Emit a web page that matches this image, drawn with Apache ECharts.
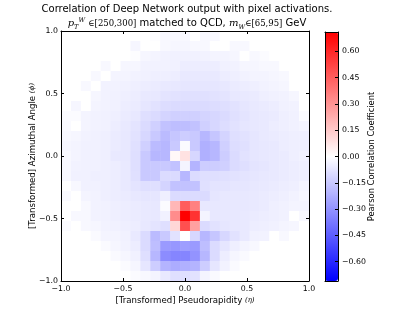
<!DOCTYPE html>
<html><head><meta charset="utf-8">
<script src="https://cdn.jsdelivr.net/npm/echarts@6/dist/echarts.min.js"></script>
<style>html,body{margin:0;padding:0;background:#fff}#c{width:415px;height:312px}</style>
</head><body><div id="c"></div>
<script>
const titleLine1 = 'Correlation of Deep Network output with pixel activations.';
const xAxisName = '[Transformed] Pseudorapidity ';
const yAxisName = '[Transformed] Azimuthal Angle ';
const cbName = 'Pearson Correlation Coefficient';
const etaRange = [-1, 1];
const phiRange = [-1, 1];
const axisTicks = [-1, -0.5, 0, 0.5, 1];
const cbRange = [-0.71, 0.71];
const cbTicks = [-0.6, -0.45, -0.3, -0.15, 0, 0.15, 0.3, 0.45, 0.6];

// rows from phi = +1 (top) down to phi = -1 (bottom); columns from eta = -1 to +1
const corr = [
 [0,0,0,0,0,0,0,0,0,-0.005,-0.02,-0.02,-0.02,0,-0.02,-0.02,0,0,0,0,0,0,0,0,0],
 [0,0,0,0,0,0,0,-0.025,0,0,-0.02,-0.025,-0.025,-0.02,-0.02,0,0,-0.02,-0.02,0,0,0,0,0,0],
 [0,0,0,0,0,0,0,-0.005,-0.025,-0.03,-0.035,-0.04,-0.04,-0.04,-0.035,-0.03,-0.03,-0.025,0,-0.02,-0.01,0,0,0,0],
 [0,0,0,0,-0.02,0,-0.025,-0.025,-0.035,-0.035,-0.035,-0.04,-0.05,-0.05,-0.05,-0.05,-0.04,-0.035,-0.025,-0.025,-0.02,-0.02,0,0,0],
 [0,0,0,-0.02,0,-0.03,-0.03,-0.035,-0.04,-0.045,-0.045,-0.05,-0.06,-0.06,-0.06,-0.06,-0.05,-0.045,-0.035,-0.03,-0.03,-0.025,-0.02,0,0],
 [0,0,-0.02,0,-0.035,-0.035,-0.04,-0.045,-0.05,-0.055,-0.06,-0.065,-0.07,-0.07,-0.07,-0.07,-0.065,-0.055,-0.05,-0.045,-0.035,-0.03,-0.025,0,0],
 [0,0,0,-0.025,-0.035,-0.04,-0.045,-0.05,-0.06,-0.065,-0.075,-0.08,-0.085,-0.085,-0.085,-0.08,-0.075,-0.065,-0.06,-0.055,-0.045,-0.04,-0.035,-0.025,0],
 [0,-0.025,0,-0.03,-0.035,-0.04,-0.05,-0.055,-0.07,-0.08,-0.095,-0.1,-0.1,-0.1,-0.1,-0.095,-0.09,-0.08,-0.07,-0.06,-0.055,-0.05,-0.04,-0.035,0],
 [-0.01,-0.01,-0.03,-0.035,-0.04,-0.045,-0.055,-0.065,-0.09,-0.1,-0.12,-0.13,-0.13,-0.13,-0.12,-0.11,-0.1,-0.085,-0.075,-0.065,-0.06,-0.055,-0.045,-0.04,-0.01],
 [-0.015,0,-0.03,-0.035,-0.04,-0.05,-0.06,-0.075,-0.1,-0.13,-0.17,-0.18,-0.18,-0.17,-0.13,-0.11,-0.095,-0.08,-0.07,-0.065,-0.06,-0.05,-0.045,-0.04,-0.03],
 [-0.02,-0.025,-0.035,-0.04,-0.045,-0.055,-0.065,-0.08,-0.11,-0.15,-0.19,-0.16,-0.14,-0.15,-0.2,-0.16,-0.12,-0.09,-0.08,-0.07,-0.06,-0.055,-0.05,-0.045,-0.045],
 [-0.025,-0.03,-0.04,-0.04,-0.045,-0.055,-0.065,-0.085,-0.13,-0.19,-0.2,-0.15,-0.01,-0.15,-0.22,-0.2,-0.13,-0.095,-0.085,-0.07,-0.065,-0.06,-0.05,-0.045,-0.045],
 [-0.02,-0.03,-0.04,-0.04,-0.045,-0.06,-0.065,-0.09,-0.15,-0.2,-0.2,0.02,0.08,-0.11,-0.22,-0.2,-0.14,-0.1,-0.08,-0.07,-0.065,-0.06,-0.055,-0.045,-0.04],
 [-0.02,-0.035,-0.04,-0.04,-0.045,-0.05,-0.06,-0.09,-0.15,-0.15,-0.15,-0.17,-0.03,-0.21,-0.14,-0.14,-0.13,-0.1,-0.09,-0.075,-0.07,-0.06,-0.055,-0.05,-0.045],
 [-0.02,-0.04,-0.04,-0.045,-0.045,-0.05,-0.06,-0.085,-0.15,-0.15,-0.1,-0.1,-0.2,-0.1,-0.09,-0.09,-0.085,-0.08,-0.075,-0.07,-0.065,-0.06,-0.055,-0.05,-0.045],
 [0,-0.02,-0.04,-0.04,-0.045,-0.05,-0.06,-0.075,-0.09,-0.09,-0.12,-0.17,-0.17,-0.17,-0.085,-0.075,-0.075,-0.07,-0.07,-0.065,-0.06,-0.055,-0.05,-0.045,-0.03],
 [-0.015,0,-0.03,-0.035,-0.045,-0.05,-0.055,-0.065,-0.07,-0.07,-0.045,-0.1,-0.1,-0.1,-0.1,-0.07,-0.065,-0.065,-0.065,-0.06,-0.055,-0.05,-0.045,-0.035,-0.025],
 [0,0,-0.02,-0.035,-0.04,-0.045,-0.05,-0.055,-0.06,-0.065,-0.01,0.2,0.45,0.35,-0.065,-0.065,-0.065,-0.065,-0.065,-0.06,-0.055,-0.045,-0.04,-0.03,-0.03],
 [0,-0.02,-0.02,-0.035,-0.04,-0.045,-0.05,-0.055,-0.06,-0.065,-0.04,0.32,0.71,0.57,-0.03,-0.065,-0.065,-0.065,-0.06,-0.055,-0.05,-0.045,-0.04,0,-0.02],
 [-0.01,0,-0.02,-0.025,-0.035,-0.04,-0.045,-0.05,-0.065,-0.075,-0.09,0.11,0.49,0.265,-0.1,-0.08,-0.07,-0.065,-0.06,-0.05,-0.045,-0.04,-0.03,-0.025,0],
 [0,0,0,-0.015,-0.03,-0.03,-0.04,-0.06,-0.1,-0.19,-0.15,-0.08,0,-0.11,-0.2,-0.16,-0.11,-0.08,-0.06,-0.04,-0.035,0,-0.02,0,0],
 [0,0,0,0,-0.015,-0.025,-0.035,-0.05,-0.1,-0.18,-0.28,-0.29,-0.27,-0.28,-0.18,-0.1,-0.07,-0.045,-0.03,-0.02,0,0,0,0,0],
 [0,0,0,0,0,-0.015,-0.025,-0.04,-0.09,-0.2,-0.32,-0.34,-0.34,-0.3,-0.2,-0.1,-0.05,-0.025,-0.015,0,0,0,0,0,0],
 [0,0,0,0,0,0,-0.01,-0.025,-0.07,-0.14,-0.21,-0.23,-0.22,-0.21,-0.14,-0.07,-0.035,-0.015,0,0,0,0,0,0,0],
 [0,0,0,0,0,0,0,-0.01,-0.02,-0.03,-0.06,-0.09,-0.09,-0.08,-0.03,-0.015,0,0,0,0,0,0,0,0,0]
];

const nRows = corr.length, nCols = corr[0].length;
const dEta = (etaRange[1] - etaRange[0]) / nCols;
const dPhi = (phiRange[1] - phiRange[0]) / nRows;
const cells = [];
corr.forEach((row, i) => row.forEach((v, j) => {
  cells.push([etaRange[0] + (j + 0.5) * dEta, phiRange[1] - (i + 0.5) * dPhi, v]);
}));

const SANS = 'DejaVu Sans';
const SERIF = 'DejaVu Serif';
const minus = s => s.replace('-', '\u2212');
const fmt1 = v => minus((Math.abs(v) < 1e-9 ? 0 : v).toFixed(1));
const fmt2 = v => minus((Math.abs(v) < 1e-9 ? 0 : v).toFixed(2));

const lineBlack = { color: '#000', width: 1 };
const mainX = (pos, labels) => ({
  gridIndex: 0, type: 'value', position: pos, min: etaRange[0], max: etaRange[1], interval: 0.5, z: 10,
  axisLine: { show: true, onZero: false, lineStyle: lineBlack },
  axisTick: { show: true, inside: true, length: 3, lineStyle: lineBlack },
  axisLabel: { show: labels, formatter: fmt1, fontSize: 7.8, fontFamily: SANS, color: '#000', margin: 4 },
  splitLine: { show: false }
});
const mainY = (pos, labels) => ({
  gridIndex: 0, type: 'value', position: pos, min: phiRange[0], max: phiRange[1], interval: 0.5, z: 10,
  axisLine: { show: true, onZero: false, lineStyle: lineBlack },
  axisTick: { show: true, inside: true, length: 3, lineStyle: lineBlack },
  axisLabel: { show: labels, formatter: fmt1, fontSize: 7.8, fontFamily: SANS, color: '#000', margin: 3 },
  splitLine: { show: false }
});
const frame = (axisType, pos) => ({
  gridIndex: 1, type: 'value', position: pos, min: 0, max: 1, z: 10,
  axisLine: { show: true, onZero: false, lineStyle: lineBlack },
  axisTick: { show: false }, axisLabel: { show: false }, splitLine: { show: false }
});

const chart = echarts.init(document.getElementById('c'), null, { renderer: 'canvas' });
const xb = mainX('bottom', true);
Object.assign(xb, {
  name: xAxisName + '{m|(η)}', nameLocation: 'middle', nameGap: 15, nameMoveOverlap: false,
  nameTextStyle: { fontSize: 8.6, fontFamily: SANS, color: '#000',
    rich: { m: { fontFamily: SERIF, fontStyle: 'italic', fontSize: 7, color: '#000' } } }
});
const yl = mainY('left', true);
Object.assign(yl, {
  name: yAxisName + '{m|(ϕ)}', nameLocation: 'middle', nameGap: 24, nameMoveOverlap: false,
  nameTextStyle: { fontSize: 8.6, fontFamily: SANS, color: '#000',
    rich: { m: { fontFamily: SERIF, fontStyle: 'italic', fontSize: 7, color: '#000' } } }
});

chart.setOption({
  backgroundColor: '#fff',
  animation: false,
  title: {
    text: titleLine1 + '\n{i|p}{sub|T}{sup|W} {m|∈[250,300]} matched to QCD, {i|m}{sub|W}{m|∈[65,95]} GeV',
    left: 187, top: 2.5, padding: 0, textAlign: 'center',
    textStyle: {
      fontSize: 10, fontFamily: SANS, fontWeight: 'normal', color: '#000', lineHeight: 14,
      rich: {
        i: { fontFamily: SERIF, fontStyle: 'italic', fontSize: 10, lineHeight: 14, color: '#000' },
        m: { fontFamily: SERIF, fontSize: 8.5, lineHeight: 14, color: '#000' },
        sub: { fontFamily: SERIF, fontStyle: 'italic', fontSize: 6.5, lineHeight: 6, verticalAlign: 'bottom', color: '#000' },
        sup: { fontFamily: SERIF, fontStyle: 'italic', fontSize: 6.5, lineHeight: 6, verticalAlign: 'top', color: '#000' }
      }
    }
  },
  grid: [
    { left: 61, top: 31, width: 248, height: 250, containLabel: false },
    { left: 325, top: 32, width: 13, height: 249, containLabel: false }
  ],
  xAxis: [ xb, mainX('top', false), frame('x', 'bottom'), frame('x', 'top') ],
  yAxis: [
    yl, mainY('right', false),
    {
      gridIndex: 1, type: 'value', position: 'right', min: cbRange[0], max: cbRange[1], z: 10,
      axisLine: { show: true, onZero: false, lineStyle: lineBlack },
      axisTick: { show: true, inside: true, length: 3, customValues: cbTicks, lineStyle: lineBlack },
      axisLabel: { show: true, customValues: cbTicks, formatter: fmt2, fontSize: 7.8, fontFamily: SANS, color: '#000', margin: 4 },
      splitLine: { show: false },
      name: cbName, nameLocation: 'middle', nameRotate: 90, nameGap: 30, nameMoveOverlap: false,
      nameTextStyle: { fontSize: 8.4, fontFamily: SANS, color: '#000' }
    },
    frame('y', 'left')
  ],
  visualMap: {
    type: 'continuous', min: cbRange[0], max: cbRange[1], dimension: 2, seriesIndex: 0,
    calculable: false, hoverLink: false, left: 325, top: 32, itemWidth: 13, itemHeight: 249, padding: 0,
    text: null, showLabel: false,
    inRange: { color: ['#0000ff', '#ffffff', '#ff0000'] }
  },
  series: [{
    type: 'custom', xAxisIndex: 0, yAxisIndex: 0, clip: true,
    data: cells, encode: { x: 0, y: 1 },
    renderItem: (params, api) => {
      const x = api.value(0), y = api.value(1);
      const p0 = api.coord([x - dEta / 2, y + dPhi / 2]);
      const p1 = api.coord([x + dEta / 2, y - dPhi / 2]);
      return {
        type: 'rect',
        shape: { x: p0[0], y: p0[1], width: p1[0] - p0[0] + 0.5, height: p1[1] - p0[1] + 0.5 },
        style: { fill: api.visual('color') }
      };
    }
  }]
});
</script></body></html>
